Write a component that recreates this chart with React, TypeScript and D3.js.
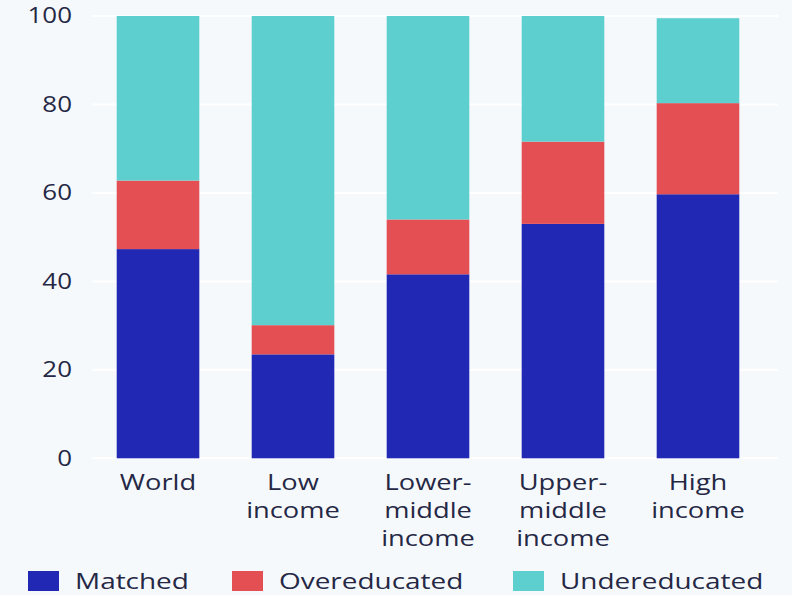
import React from "react";
import * as d3 from "d3";

const categories: string[][] = [
  ["World"],
  ["Low", "income"],
  ["Lower-", "middle", "income"],
  ["Upper-", "middle", "income"],
  ["High", "income"],
];
const categoryKeys = ["World", "Low income", "Lower-middle income", "Upper-middle income", "High income"];
const matched = [47.3, 23.5, 41.6, 53.0, 59.7];
const overeducated = [15.5, 6.6, 12.4, 18.6, 20.6];
const undereducated = [37.2, 69.9, 46.0, 28.4, 19.2];
const seriesNames = ["Matched", "Overeducated", "Undereducated"];
const seriesColors = ["#2128b4", "#e34f53", "#5ecfcf"];
const yTicks = [0, 20, 40, 60, 80, 100];

const W = 792;
const H = 595;
const FONT = "'Open Sans', sans-serif";
const TEXT = "#252845";
const SX = 1.3;

export default function App() {
  const x = d3
    .scaleBand<string>()
    .domain(categoryKeys)
    .range([76.2, 779.8])
    .paddingInner(0.388)
    .paddingOuter(0.3);
  const y = d3.scaleLinear().domain([0, 100]).range([458.3, 16]);

  const rows = categoryKeys.map((k, i) => ({
    key: k,
    Matched: matched[i],
    Overeducated: overeducated[i],
    Undereducated: undereducated[i],
  }));
  const stacked = d3.stack<any>().keys(seriesNames)(rows);

  const legendX = [28, 232, 513];

  return (
    <svg
      width={W}
      height={H}
      style={{ position: "absolute", left: 0, top: 0, display: "block" }}
    >
      <rect x={0} y={0} width={W} height={H} fill="#f6f9fc" />
      {yTicks.map((t) => (
        <g key={t}>
          <line x1={92} x2={778} y1={y(t)} y2={y(t)} stroke="#ffffff" strokeWidth={2} />
          <g transform={`translate(72,${y(t)}) scale(${SX * 0.95},1)`}>
            <text
              textAnchor="end"
              dy="0.35em"
              fontFamily={FONT}
              fontSize={21}
              fontWeight={500}
              fill={TEXT}
            >
              {t}
            </text>
          </g>
        </g>
      ))}
      {stacked.map((s, si) => (
        <g key={s.key} fill={seriesColors[si]}>
          {s.map((d, i) => (
            <rect
              key={i}
              x={x(categoryKeys[i])}
              width={x.bandwidth()}
              y={y(d[1])}
              height={y(d[0]) - y(d[1])}
            />
          ))}
        </g>
      ))}
      {categories.map((lines, i) => (
        <g key={i}>
          {lines.map((ln, j) => (
            <g
              key={j}
              transform={`translate(${x(categoryKeys[i])! + x.bandwidth() / 2},${490 + j * 28}) scale(${SX},1)`}
            >
              <text textAnchor="middle" fontFamily={FONT} fontSize={21} fontWeight={500} fill={TEXT}>
                {ln}
              </text>
            </g>
          ))}
        </g>
      ))}
      {seriesNames.map((n, i) => (
        <g key={n}>
          <rect x={legendX[i]} y={571} width={31} height={20} fill={seriesColors[i]} />
          <g transform={`translate(${legendX[i] + 47},589) scale(${SX},1)`}>
            <text fontFamily={FONT} fontSize={21.5} fontWeight={500} fill={TEXT}>
              {n}
            </text>
          </g>
        </g>
      ))}
    </svg>
  );
}
